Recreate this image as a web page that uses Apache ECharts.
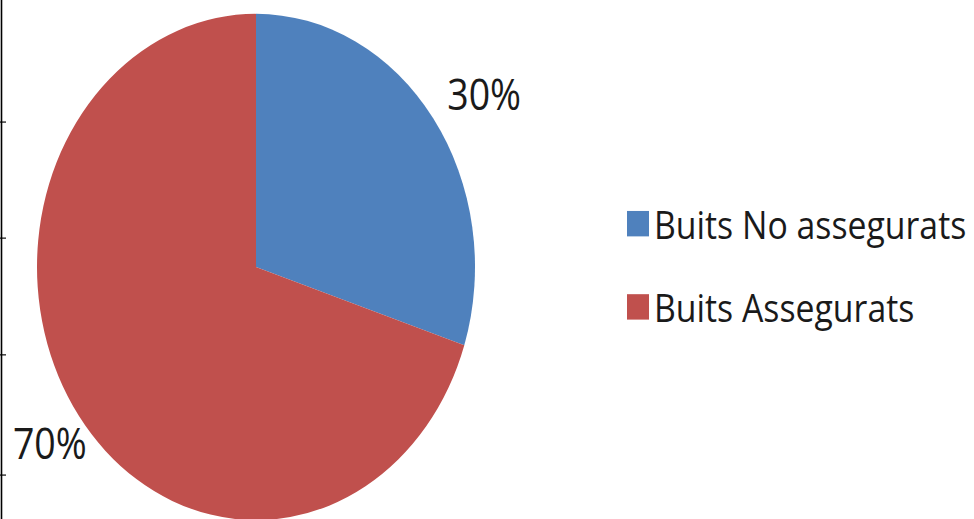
<!DOCTYPE html>
<html>
<head>
<meta charset="utf-8">
<script src="https://cdn.jsdelivr.net/npm/echarts@6/dist/echarts.min.js"></script>
<style>
html,body{margin:0;padding:0;background:#fff;overflow:hidden;}
#wrap{width:974px;height:519px;overflow:hidden;position:relative;}
#chart{width:974px;height:449px;transform:scaleY(1.15590);transform-origin:0 0;}
</style>
</head>
<body>
<div id="wrap"><div id="chart"></div></div>
<script>
const categories = ['Buits No assegurats', 'Buits Assegurats'];
const values = [30, 70];
const colors = ['#4F81BD', '#C0504D'];
const labelOffsets = [[-16, -3], [38, 5]];

const chart = echarts.init(document.getElementById('chart'), null, {renderer: 'svg'});
const font = '"Open Sans", "Noto Sans", sans-serif';
chart.setOption({
  animation: false,
  backgroundColor: '#ffffff',
  legend: {
    orient: 'vertical',
    left: 622,
    top: 171.5,
    itemWidth: 22,
    itemHeight: 22,
    itemGap: 38,
    icon: 'rect',
    data: categories,
    textStyle: {fontFamily: font, fontSize: 33.8, lineHeight: 33, color: '#1a1a1a'}
  },
  graphic: [
    {type: 'line', shape: {x1: 1.5, y1: 0, x2: 1.5, y2: 449}, style: {stroke: '#000', lineWidth: 1.6}},
    {type: 'line', shape: {x1: 0, y1: 105.6, x2: 6, y2: 105.6}, style: {stroke: '#000', lineWidth: 1}},
    {type: 'line', shape: {x1: 0, y1: 206, x2: 6, y2: 206}, style: {stroke: '#000', lineWidth: 1}},
    {type: 'line', shape: {x1: 0, y1: 307, x2: 6, y2: 307}, style: {stroke: '#000', lineWidth: 1}},
    {type: 'line', shape: {x1: 0, y1: 411, x2: 6, y2: 411}, style: {stroke: '#000', lineWidth: 1}}
  ],
  series: [{
    type: 'pie',
    center: [256, 231],
    radius: 219,
    startAngle: 90,
    clockwise: true,
    avoidLabelOverlap: false,
    label: {
      show: true,
      position: 'outside',
      formatter: '{d}%',
      fontFamily: font,
      fontSize: 37.5,
      color: '#1a1a1a'
    },
    labelLine: {show: false, length: 31, length2: 0},
    itemStyle: {borderWidth: 0},
    emphasis: {disabled: true},
    data: categories.map((c, i) => ({
      name: c,
      value: values[i],
      itemStyle: {color: colors[i]},
      label: {offset: labelOffsets[i]}
    }))
  }]
});
</script>
</body>
</html>
